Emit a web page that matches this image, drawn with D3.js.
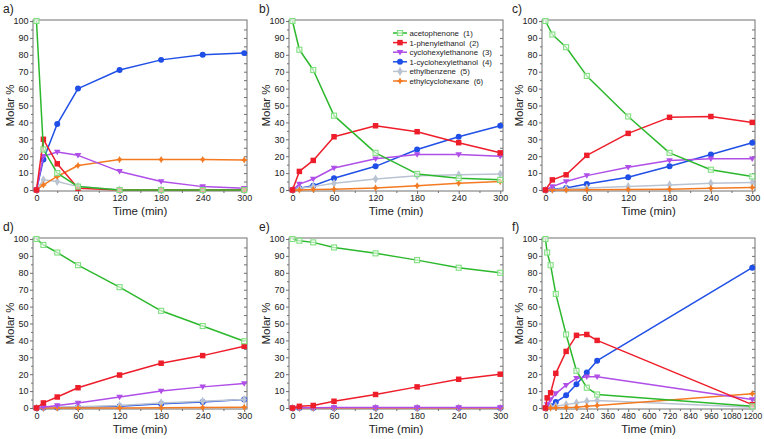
<!DOCTYPE html>
<html><head><meta charset="utf-8">
<script src="https://cdn.jsdelivr.net/npm/d3@7"></script>
<style>
body{margin:0;background:#fff;}
text{font-family:"Liberation Sans",Arial,sans-serif;fill:#222;}
</style></head><body>
<svg id="c" width="764" height="439"></svg>
<script>
// ---- data ----
const seriesNames = ["acetophenone  (1)","1-phenylethanol  (2)","cyclohexylethanone  (3)","1-cyclohexylethanol  (4)","ethylbenzene  (5)","ethylcyclohexane  (6)"];
const seriesColors = ["#2cb82c","#ee1d2a","#b04ee8","#1f4fe6","#b9c3d2","#f47a22"];
const panelLabels = ["a)","b)","c)","d)","e)","f)"];
const timesShort = [0,10,30,60,120,180,240,300];
const timesLong = [0,10,30,60,120,180,240,300,1200];
const xTicksShort = [0,60,120,180,240,300];
const xTicksLong = [0,120,240,360,480,600,720,840,960,1080,1200];
const yTicks = [0,10,20,30,40,50,60,70,80,90,100];

const panelA = [
  [100,24,10,2,0,0,0,0],
  [0,30,15.5,1,0,0,0,0],
  [0,20,22.5,20.5,11,5,2,1],
  [0,18,39,60,71,77,80,81],
  [0,6,5,2,0,0,0,0],
  [0,3,8,14.5,18,18,18,17.8]
];
const panelB = [
  [100,83,71,44,22,9.5,7,6],
  [0,11,17.5,31.5,38,34.5,28,22],
  [0,3.5,6.5,13,18.5,21,21,20],
  [0,1,2.5,7,14,24,31.5,38],
  [0,1,2,4,6.5,8.5,9,9.5],
  [0,0,0.3,0.5,1.2,2.5,4,5]
];
const panelC = [
  [100,92,84.5,67.5,43.5,22,12,8],
  [0,6,9,20.5,33.5,43,43.5,40],
  [0,2,5,8.5,13.5,17.5,18.5,18.5],
  [0,0.5,1.2,3.5,7.5,14,21,28],
  [0,0.3,0.7,1.2,2,3,4,4.5],
  [0,0,0,0.2,0.3,0.5,1,1.5]
];
const panelD = [
  [100,96.5,92,84.5,71.5,57.5,48.5,39.5],
  [0,3,6.5,12,19.5,26.5,31,36.5],
  [0,0.5,1.5,3,6.5,10,12.5,14.5],
  [0,0.1,0.3,0.5,1,2.5,3.5,5],
  [0,0.2,0.5,0.8,1.5,3,4,5],
  [0,0,0,0,0,0.2,0.3,0.5]
];
const panelE = [
  [100,99,98,95,91.5,87.5,83,80],
  [0,1,1.5,4,8,12.5,17,20],
  [0,0.2,0.2,0.3,0.3,0.3,0.3,0.3],
  [0,0,0,0,0,0,0,0],
  [0,0,0,0,0,0,0,0],
  [0,0,0,0,0,0,0,0]
];
const panelF = [
  [100,92,84.5,67.5,43.5,22,12,8,1],
  [0,6,9,20.5,33.5,43,43.5,40,2],
  [0,2,5,8.5,13.5,17.5,18.5,18.5,5],
  [0,0.5,1.2,3.5,7.5,14,21,28,83],
  [0,0.3,0.7,1.2,2,3,4,4.5,0.5],
  [0,0,0,0.2,0.3,0.5,1,1.5,8.5]
];

// ---- layout ----
const panels = [
  {data:panelA, t:timesShort, xt:xTicksShort, xmax:300, x0:33, x1:247, y0:20, y1:191},
  {data:panelB, t:timesShort, xt:xTicksShort, xmax:300, x0:289, x1:503, y0:20, y1:191, legend:true},
  {data:panelC, t:timesShort, xt:xTicksShort, xmax:300, x0:542, x1:755, y0:20, y1:191},
  {data:panelD, t:timesShort, xt:xTicksShort, xmax:300, x0:33, x1:247, y0:238, y1:409},
  {data:panelE, t:timesShort, xt:xTicksShort, xmax:300, x0:289, x1:503, y0:238, y1:409},
  {data:panelF, t:timesLong, xt:xTicksLong, xmax:1200, x0:542, x1:755, y0:238, y1:409}
];

const svg = d3.select("#c");
const frameColor = "#707070";

function star(s){ // 4-point star
  const r=s, q=s*0.35;
  return `M0,${-r}L${q},${-q}L${r},0L${q},${q}L0,${r}L${-q},${q}L${-r},0L${-q},${-q}Z`;
}
function drawMarker(g, k, x, y){
  const c = seriesColors[k];
  const s = g.append("g").attr("transform",`translate(${x},${y})`);
  if(k===0){
    s.append("rect").attr("x",-2.5).attr("y",-2.5).attr("width",5).attr("height",5)
      .attr("fill","#fff").attr("fill-opacity",0.6).attr("stroke","#7ee07e").attr("stroke-width",1.1);
  } else if(k===1){
    s.append("path").attr("d",d3.symbol(d3.symbolSquare,30)()).attr("fill",c);
  } else if(k===2){
    s.append("path").attr("d","M-3.3,-2.3L3.3,-2.3L0,3.2Z").attr("fill",c);
  } else if(k===3){
    s.append("path").attr("d",d3.symbol(d3.symbolCircle,28)()).attr("fill",c);
  } else if(k===4){
    s.append("path").attr("d",d3.symbol(d3.symbolDiamond,24)()).attr("fill",c);
  } else {
    s.append("path").attr("d",star(3.6)).attr("fill",c);
  }
}

panels.forEach((p,pi)=>{
  const pad = p.xmax*5/300;
  const x = d3.scaleLinear().domain([-pad, p.xmax+pad*0.8]).range([p.x0,p.x1]);
  const y = d3.scaleLinear().domain([0,100]).range([p.y1-1,p.y0+1]);
  const g = svg.append("g");

  // left axis
  const la = g.append("g").attr("transform",`translate(${p.x0},0)`)
    .call(d3.axisLeft(y).tickValues(yTicks).tickSize(3).tickPadding(1.5).tickFormat(d3.format("d")));
  la.select(".domain").remove();
  la.selectAll("line").attr("stroke",frameColor);
  la.selectAll("text").style("font-size","9px").attr("fill","#222");
  const lm = g.append("g").attr("transform",`translate(${p.x0},0)`)
    .call(d3.axisLeft(y).tickValues(d3.range(5,100,10)).tickSize(2).tickFormat(""));
  lm.select(".domain").remove(); lm.selectAll("line").attr("stroke",frameColor);
  // right axis inward
  const ra = g.append("g").attr("transform",`translate(${p.x1},0)`)
    .call(d3.axisRight(y).tickValues(d3.range(5,100,5)).tickSize(-3).tickFormat(""));
  ra.select(".domain").remove(); ra.selectAll("line").attr("stroke",frameColor);
  // bottom axis
  const ba = g.append("g").attr("transform",`translate(0,${p.y1})`)
    .call(d3.axisBottom(x).tickValues(p.xt).tickSize(3).tickPadding(1).tickFormat(d3.format("d")));
  ba.select(".domain").remove();
  ba.selectAll("line").attr("stroke",frameColor);
  ba.selectAll("text").style("font-size", p.xmax>300 ? "8.6px" : "9px").attr("fill","#222");
  const step = p.xt[1]-p.xt[0];
  const bm = g.append("g").attr("transform",`translate(0,${p.y1})`)
    .call(d3.axisBottom(x).tickValues(d3.range(step/2,p.xmax,step)).tickSize(2).tickFormat(""));
  bm.select(".domain").remove(); bm.selectAll("line").attr("stroke",frameColor);

  // frame
  g.append("rect").attr("x",p.x0).attr("y",p.y0).attr("width",p.x1-p.x0).attr("height",p.y1-p.y0)
    .attr("fill","none").attr("stroke",frameColor).attr("stroke-width",1);

  // axis titles
  g.append("text").attr("transform",`translate(${p.x0-19},${(p.y0+p.y1)/2}) rotate(-90)`)
    .attr("text-anchor","middle").style("font-size","11.5px").text("Molar %");
  g.append("text").attr("x",(p.x0+p.x1)/2).attr("y",p.y1+24)
    .attr("text-anchor","middle").style("font-size","11.5px").text("Time (min)");
  g.append("text").attr("x",p.x0-30).attr("y",p.y0-7).style("font-size","12px").text(panelLabels[pi]);

  const line = d3.line().x((d,i)=>x(p.t[i])).y(d=>y(d));
  const order = [3,4,5,2,1,0];
  order.forEach(k=>{
    const vals = p.data[k];
    g.append("path").attr("d",line(vals)).attr("fill","none")
      .attr("stroke",seriesColors[k]).attr("stroke-width",1.5).attr("stroke-linejoin","round");
    vals.forEach((v,i)=>drawMarker(g,k,x(p.t[i]),y(v)));
  });

  if(p.legend){
    const lg = g.append("g");
    seriesNames.forEach((n,k)=>{
      const ly = 33 + k*9.6;
      lg.append("line").attr("x1",393).attr("x2",407).attr("y1",ly).attr("y2",ly)
        .attr("stroke",seriesColors[k]).attr("stroke-width",1.5);
      drawMarker(lg,k,400,ly);
      lg.append("text").attr("x",409.5).attr("y",ly+3).style("font-size","7.8px")
        .style("white-space","pre").text(n);
    });
  }
});
</script>
</body></html>
